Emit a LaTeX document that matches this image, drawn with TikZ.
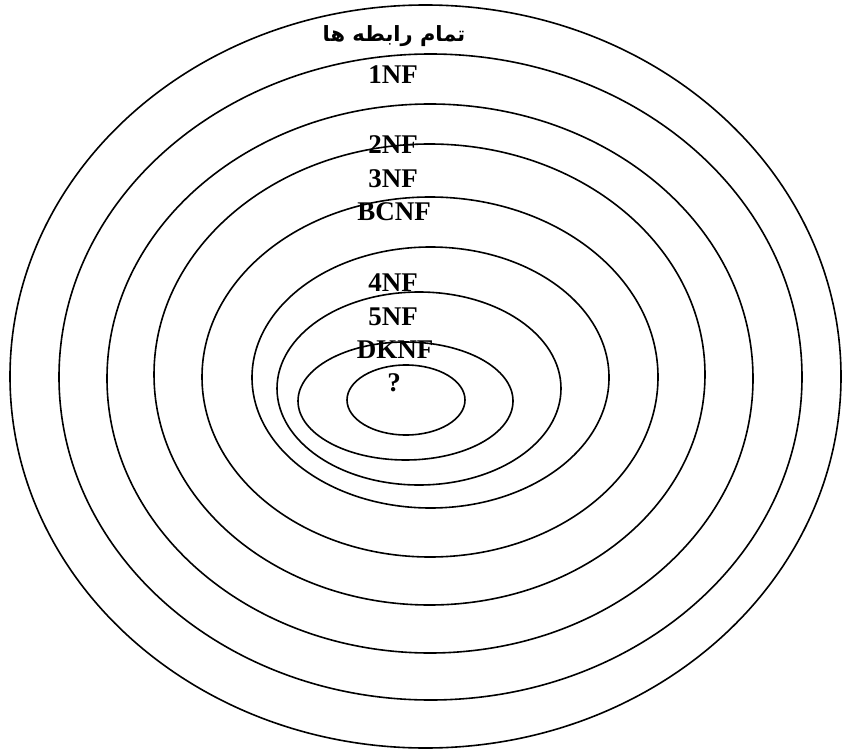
\documentclass[tikz,border=0pt]{standalone}
\usepackage{fontspec}
\setmainfont{Liberation Serif}
\newfontfamily\arabicfont[Script=Arabic]{DejaVu Sans}
\TeXXeTstate=1
\begin{document}
\begin{tikzpicture}[x=1pt,y=-1pt,
  ring/.style={draw=black,line width=1.6pt},
  lbl/.style={font=\fontsize{27}{30}\selectfont\bfseries,inner sep=0pt,anchor=center}]
\useasboundingbox (0,0) rectangle (842,751);
\draw[ring] (425.5,376.5) ellipse [x radius=415.5,y radius=371.5];
\draw[ring] (430.5,377) ellipse [x radius=371.5,y radius=323];
\draw[ring] (430,378.5) ellipse [x radius=323,y radius=274.5];
\draw[ring] (429.5,374.5) ellipse [x radius=275.5,y radius=230.5];
\draw[ring] (430,377) ellipse [x radius=228,y radius=180];
\draw[ring] (430.5,377.5) ellipse [x radius=178.5,y radius=130.5];
\draw[ring] (419,388.5) ellipse [x radius=142,y radius=96.5];
\draw[ring] (405.5,401) ellipse [x radius=107.5,y radius=59];
\draw[ring] (406,400) ellipse [x radius=59,y radius=35];
\node[inner sep=0pt,font=\arabicfont\bfseries\fontsize{21}{24}\selectfont] (all) at (394,36) {\beginR تمام رابطه ها\endR};
\node[lbl] (nf1) at (393,75) {1NF};
\node[lbl] (nf2) at (393,145) {2NF};
\node[lbl] (nf3) at (393,179) {3NF};
\node[lbl] (bcnf) at (394,212) {BCNF};
\node[lbl] (nf4) at (393,283) {4NF};
\node[lbl] (nf5) at (393,317) {5NF};
\node[lbl] (dknf) at (395,350) {DKNF};
\node[lbl] (q) at (394,383) {?};
\end{tikzpicture}
\end{document}
